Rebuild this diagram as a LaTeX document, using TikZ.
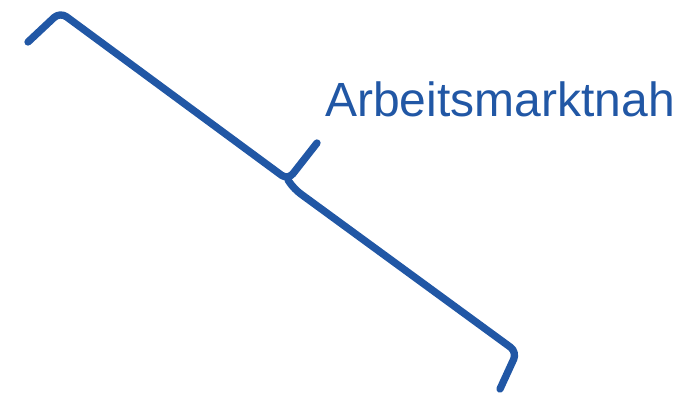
\documentclass[tikz,border=0pt]{standalone}
\usepackage{fontspec}
\setmainfont{Liberation Sans}
\usetikzlibrary{positioning}
\definecolor{bracblue}{RGB}{33,87,165}

\begin{document}
\begin{tikzpicture}[
    x=0.75pt, y=-0.75pt,
    brace/.style={draw=bracblue, line width=5.5pt, line cap=round, line join=round, rounded corners=6pt}
]
\useasboundingbox (0,0) rectangle (681,395);
% brace, upper half with tip
\draw[brace] (28,42) -- (60,12) -- (288,180) -- (317,143);
% brace, lower half
\draw[brace] (288,180) -- (294,189) -- (517,352) -- (500,389);
\node[anchor=base west, inner sep=0pt, text=bracblue, font=\fontsize{36}{40}\selectfont] (label) at (325,117) {Arbeitsmarktnah};
\end{tikzpicture}
\end{document}
